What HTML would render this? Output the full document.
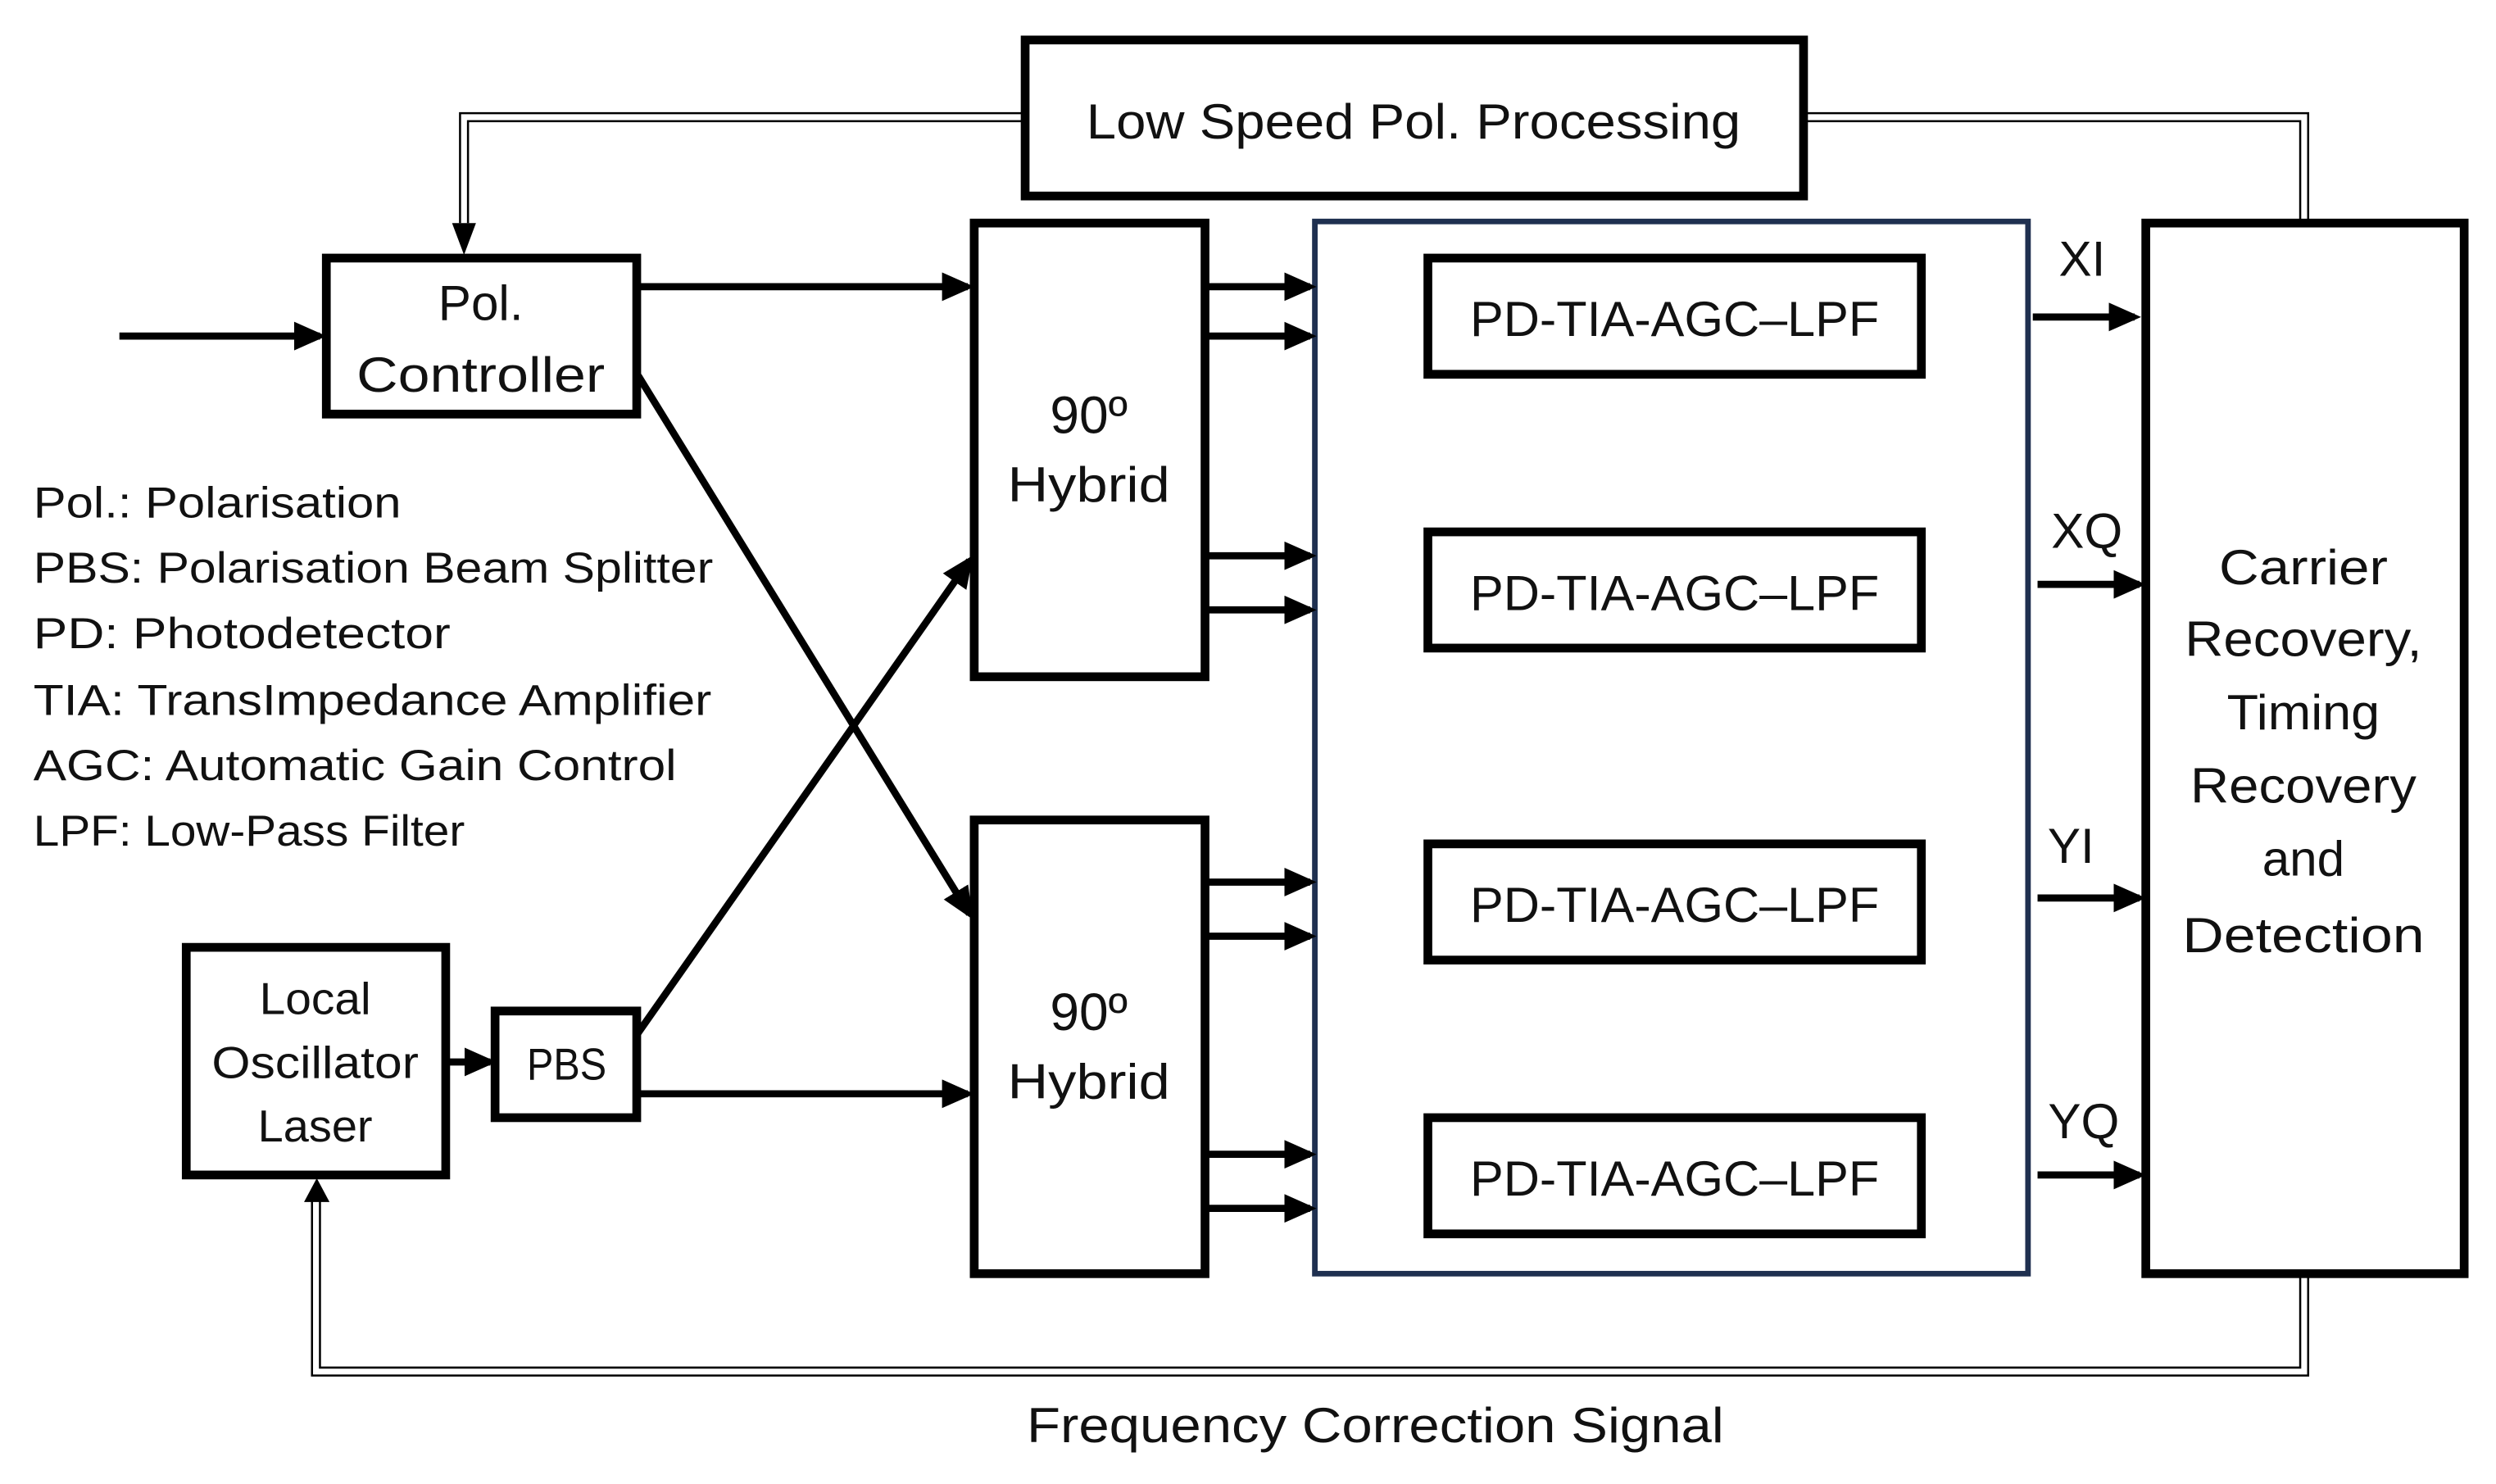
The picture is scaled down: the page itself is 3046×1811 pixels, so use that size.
<!DOCTYPE html>
<html><head><meta charset="utf-8"><style>
html,body{margin:0;padding:0;background:#fff;}
svg{display:block;}
text{font-family:"Liberation Sans",sans-serif;fill:#111;}
</style></head><body>
<svg width="3046" height="1811" viewBox="0 0 1568 932" xmlns="http://www.w3.org/2000/svg">
<defs>
<marker id="ah" markerWidth="4.5" markerHeight="4" refX="3.6" refY="2" orient="auto" markerUnits="strokeWidth">
<path d="M0,0 L4.5,2 L0,4 z" fill="#000"/></marker>
</defs>
<g fill="none" stroke="#000" stroke-width="5.5">
<rect x="644" y="25" width="489" height="98"/>
<rect x="205" y="162" width="195" height="98"/>
<rect x="612" y="140" width="145" height="285"/>
<rect x="612" y="515" width="145" height="285"/>
<rect x="1348" y="140" width="200" height="660"/>
<rect x="897" y="162" width="310" height="73"/>
<rect x="897" y="334" width="310" height="73"/>
<rect x="897" y="530" width="310" height="73"/>
<rect x="897" y="702" width="310" height="73"/>
<rect x="117" y="595" width="163" height="143"/>
<rect x="311" y="635" width="89" height="67"/>
</g>
<rect x="826" y="139" width="448" height="661" fill="none" stroke="#1f3050" stroke-width="3.5"/>
<g fill="none" stroke="#000" stroke-width="1.3">
<polyline points="643,71 289,71 289,140"/>
<polyline points="643,76 294,76 294,140"/>
<polyline points="1134,71 1450,71 1450,138"/>
<polyline points="1134,76 1445,76 1445,138"/>
<polyline points="1450,800 1450,864 196,864 196,752"/>
<polyline points="1445,800 1445,859 201,859 201,752"/>
</g>
<path d="M284,140 L299,140 L291.5,160 z" fill="#000"/>
<path d="M191,755 L207,755 L199,740 z" fill="#000"/>
<g stroke="#000" stroke-width="4.5" marker-end="url(#ah)" fill="none">
<line x1="75" y1="211" x2="201" y2="211"/>
<line x1="401" y1="180" x2="608" y2="180"/>
<line x1="401" y1="236" x2="609" y2="574"/>
<line x1="400" y1="650" x2="609" y2="352"/>
<line x1="400" y1="687" x2="608" y2="687"/>
<line x1="280" y1="667" x2="308" y2="667"/>
<line x1="757" y1="180" x2="823" y2="180"/>
<line x1="757" y1="211" x2="823" y2="211"/>
<line x1="757" y1="349" x2="823" y2="349"/>
<line x1="757" y1="383" x2="823" y2="383"/>
<line x1="757" y1="554" x2="823" y2="554"/>
<line x1="757" y1="588" x2="823" y2="588"/>
<line x1="757" y1="725" x2="823" y2="725"/>
<line x1="757" y1="759" x2="823" y2="759"/>
<line x1="1277" y1="199" x2="1341" y2="199"/>
<line x1="1280" y1="367" x2="1344" y2="367"/>
<line x1="1280" y1="564" x2="1344" y2="564"/>
<line x1="1280" y1="738" x2="1344" y2="738"/>
</g>
<g font-size="31" text-anchor="middle">
<text x="888" y="87" textLength="411" lengthAdjust="spacingAndGlyphs">Low Speed Pol. Processing</text>
<text x="302" y="201">Pol.</text>
<text x="302" y="246" textLength="156" lengthAdjust="spacingAndGlyphs">Controller</text>
<text x="684" y="272" font-size="33">90º</text>
<text x="684" y="315" textLength="102" lengthAdjust="spacingAndGlyphs">Hybrid</text>
<text x="684" y="647" font-size="33">90º</text>
<text x="684" y="690" textLength="102" lengthAdjust="spacingAndGlyphs">Hybrid</text>
<text x="1052" y="211" textLength="257" lengthAdjust="spacingAndGlyphs">PD-TIA-AGC–LPF</text>
<text x="1052" y="383" textLength="257" lengthAdjust="spacingAndGlyphs">PD-TIA-AGC–LPF</text>
<text x="1052" y="579" textLength="257" lengthAdjust="spacingAndGlyphs">PD-TIA-AGC–LPF</text>
<text x="1052" y="751" textLength="257" lengthAdjust="spacingAndGlyphs">PD-TIA-AGC–LPF</text>
<text x="1447" y="367" textLength="106" lengthAdjust="spacingAndGlyphs">Carrier</text>
<text x="1447" y="412" textLength="149" lengthAdjust="spacingAndGlyphs">Recovery,</text>
<text x="1447" y="458" textLength="96" lengthAdjust="spacingAndGlyphs">Timing</text>
<text x="1447" y="504" textLength="142" lengthAdjust="spacingAndGlyphs">Recovery</text>
<text x="1447" y="550">and</text>
<text x="1447" y="598" textLength="152" lengthAdjust="spacingAndGlyphs">Detection</text>
<text x="1308" y="173">XI</text>
<text x="1311" y="344">XQ</text>
<text x="1301" y="542">YI</text>
<text x="1309" y="715">YQ</text>
<text x="864" y="906" textLength="438" lengthAdjust="spacingAndGlyphs">Frequency Correction Signal</text>
</g>
<g font-size="28" text-anchor="middle">
<text x="198" y="637" textLength="70" lengthAdjust="spacingAndGlyphs">Local</text>
<text x="198" y="677" textLength="130" lengthAdjust="spacingAndGlyphs">Oscillator</text>
<text x="198" y="717" textLength="72" lengthAdjust="spacingAndGlyphs">Laser</text>
<text x="356" y="678" textLength="50" lengthAdjust="spacingAndGlyphs">PBS</text>
</g>
<g font-size="27">
<text x="21" y="325" textLength="231" lengthAdjust="spacingAndGlyphs">Pol.: Polarisation</text>
<text x="21" y="366" textLength="427" lengthAdjust="spacingAndGlyphs">PBS: Polarisation Beam Splitter</text>
<text x="21" y="407" textLength="262" lengthAdjust="spacingAndGlyphs">PD: Photodetector</text>
<text x="21" y="449" textLength="426" lengthAdjust="spacingAndGlyphs">TIA: TransImpedance Amplifier</text>
<text x="21" y="490" textLength="404" lengthAdjust="spacingAndGlyphs">AGC: Automatic Gain Control</text>
<text x="21" y="531" textLength="271" lengthAdjust="spacingAndGlyphs">LPF: Low-Pass Filter</text>
</g>
</svg>
</body></html>
